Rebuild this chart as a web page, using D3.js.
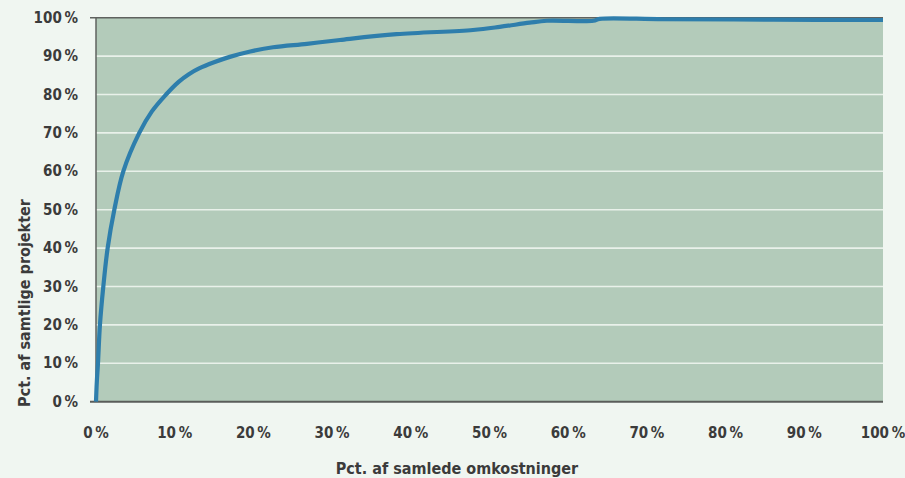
<!DOCTYPE html>
<html>
<head>
<meta charset="utf-8">
<script src="https://cdn.jsdelivr.net/npm/d3@7"></script>
<style>
  html, body { margin: 0; padding: 0; background: #f0f6f1; }
  svg { display: block; }
  text { font-family: "Liberation Sans Narrow", "DejaVu Sans Condensed", sans-serif; font-weight: bold; fill: #3b3b3b; }
</style>
</head>
<body>
<svg id="chart" width="905" height="478"></svg>
<script>
// Cumulative share of costs (x) vs cumulative share of projects (y), in percent
const costShare = [0, 0.1, 0.25, 0.5, 0.93, 1.48, 2.33, 3.47, 5.5, 7.1, 8.9, 10.5, 11.8, 13.1, 15, 17, 19.6, 22.5, 26.8, 31, 38.2, 47.9, 51.3, 55.1, 57.3, 63.2, 64, 72, 86, 100];
const projectShare = [0, 5, 10, 20, 30, 40, 50, 60, 70, 75.6, 80, 83.3, 85.3, 86.8, 88.4, 89.8, 91.2, 92.3, 93.2, 94.2, 95.7, 96.8, 97.6, 98.7, 99.2, 99.2, 99.7, 99.6, 99.5, 99.4];
const xTicks = [0, 10, 20, 30, 40, 50, 60, 70, 80, 90, 100];
const yTicks = [0, 10, 20, 30, 40, 50, 60, 70, 80, 90, 100];
const xTitle = "Pct. af samlede omkostninger";
const yTitle = "Pct. af samtlige projekter";

const svg = d3.select("#chart");
const margin = { left: 96, right: 22, top: 17.7, bottom: 76.3 };
const W = 905, H = 478;
const x = d3.scaleLinear().domain([0, 100]).range([margin.left, W - margin.right]);
const y = d3.scaleLinear().domain([0, 100]).range([H - margin.bottom, margin.top]);

// plot background
svg.append("rect")
  .attr("x", x(0)).attr("y", y(100))
  .attr("width", x(100) - x(0)).attr("height", y(0) - y(100))
  .attr("fill", "#b3cbba");

// horizontal gridlines
svg.append("g").selectAll("line")
  .data(yTicks.filter(d => d > 0 && d < 100))
  .join("line")
  .attr("x1", x(0)).attr("x2", x(100))
  .attr("y1", d => y(d)).attr("y2", d => y(d))
  .attr("stroke", "#e9f1ea").attr("stroke-width", 1.6);

// top border
svg.append("line")
  .attr("x1", x(0) - 6).attr("x2", x(100))
  .attr("y1", y(100)).attr("y2", y(100))
  .attr("stroke", "#5f625f").attr("stroke-width", 1.5);

// left axis line
svg.append("line")
  .attr("x1", x(0)).attr("x2", x(0))
  .attr("y1", y(100)).attr("y2", y(0))
  .attr("stroke", "#5f625f").attr("stroke-width", 1.5);

// bottom axis line
svg.append("line")
  .attr("x1", x(0) - 6).attr("x2", x(100))
  .attr("y1", y(0)).attr("y2", y(0))
  .attr("stroke", "#5a5d5a").attr("stroke-width", 2);

// y tick labels
svg.append("g").selectAll("text")
  .data(yTicks)
  .join("text")
  .attr("x", 78).attr("y", d => y(d) + 5)
  .attr("text-anchor", "end")
  .attr("font-size", 15)
  .text(d => d + "\u2009%");

// x tick labels
svg.append("g").selectAll("text")
  .data(xTicks)
  .join("text")
  .attr("x", d => x(d)).attr("y", 438)
  .attr("text-anchor", "middle")
  .attr("font-size", 15)
  .text(d => d + "\u2009%");

// axis titles
svg.append("text")
  .attr("x", 457).attr("y", 474)
  .attr("text-anchor", "middle")
  .attr("font-size", 16)
  .text(xTitle);

svg.append("text")
  .attr("transform", "translate(30,303) rotate(-90)")
  .attr("text-anchor", "middle")
  .attr("font-size", 16)
  .text(yTitle);

// cumulative curve
const pts = costShare.map((c, i) => [c, projectShare[i]]);
const line = d3.line()
  .x(d => x(d[0]))
  .y(d => y(d[1]))
  .curve(d3.curveCatmullRom.alpha(0.5));

svg.append("path")
  .datum(pts)
  .attr("d", line)
  .attr("fill", "none")
  .attr("stroke", "#2e7eac")
  .attr("stroke-width", 4.2)
  .attr("stroke-linejoin", "round");
</script>
</body>
</html>
